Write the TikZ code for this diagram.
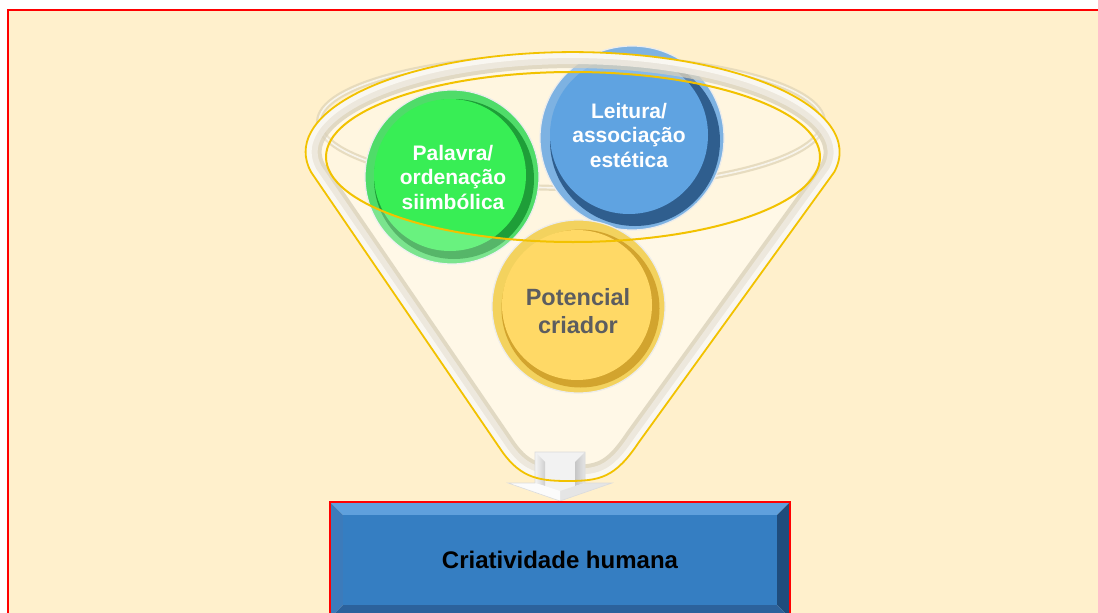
\documentclass[tikz,border=0pt]{standalone}
\usepackage{fontspec}
\setmainfont{Liberation Sans}
\definecolor{bgcream}{HTML}{FFF0CC}
\definecolor{gold}{HTML}{F2C200}
\definecolor{wallA}{HTML}{D8CFB8}
\definecolor{wallB}{HTML}{EFEAE0}
\definecolor{wallC}{HTML}{FBF9F4}
\definecolor{rimc}{HTML}{E2D6B8}
\definecolor{gRing}{HTML}{4FDC69}
\definecolor{gDark}{HTML}{1E9E38}
\definecolor{gFace}{HTML}{38EE55}
\definecolor{bRing}{HTML}{7DB2E2}
\definecolor{bDark}{HTML}{2F5E8E}
\definecolor{bFace}{HTML}{5FA3E1}
\definecolor{yRing}{HTML}{F3D25E}
\definecolor{yDark}{HTML}{D2A42E}
\definecolor{yFace}{HTML}{FFD966}
\definecolor{ytext}{HTML}{5C5D60}
\definecolor{boxface}{HTML}{357EC2}
\definecolor{bevTop}{HTML}{5FA0DD}
\definecolor{bevLeft}{HTML}{3C7BBB}
\definecolor{bevRight}{HTML}{1F4C7C}
\definecolor{bevBot}{HTML}{2C629C}
\tikzset{
  ringdisk/.style={circle, inner sep=0pt, draw=white!85!gray, line width=1.2pt},
  facedisk/.style={circle, inner sep=0pt, align=center},
  bubtext/.style={font=\fontsize{21}{24.5}\selectfont\bfseries, text=white},
  goldline/.style={draw=gold, line width=2pt},
}
\def\funnelpath{(311,-172) arc[start angle=191.5, end angle=-11.5, x radius=267, y radius=100] -- (639,-442) .. controls (615,-478) and (600,-481) .. (567,-481) .. controls (535,-481) and (518,-476) .. (499,-447) -- cycle}
\begin{document}
\begin{tikzpicture}[x=1pt,y=1pt]
\clip (0,0) rectangle (1098,-613);
\fill[white] (0,0) rectangle (1098,-613);
\draw[red, line width=2.6pt, fill=bgcream] (8,-10) rectangle (1120,-640);

% funnel interior
\fill[white, opacity=0.4] \funnelpath;
% back rim
\draw[rimc, line width=6pt, opacity=0.8] (571,-122) ellipse[x radius=252, y radius=66];
\draw[white, line width=1.6pt, opacity=0.7] (571,-122) ellipse[x radius=252, y radius=66];

% green bubble
\node[ringdisk, minimum size=174pt, fill=gRing] (gOut) at (452,-177) {};
\fill[gDark] (454,-179) circle (80);
\node[facedisk, minimum size=152pt, fill=gFace] (gFaceN) at (450,-175) {};
\node[bubtext, align=center] (gText) at (453,-177) {Palavra/\\ordenação\\siimbólica};

% blue bubble
\node[ringdisk, minimum size=184pt, fill=bRing] (bOut) at (632,-138) {};
\fill[bDark] (635,-141) circle (85);
\node[facedisk, minimum size=158pt, fill=bFace] (bFaceN) at (629,-135) {};
\node[bubtext, align=center] (bText) at (629,-135) {Leitura/\\associação\\estética};

% front glass
\fill[white, opacity=0.25, even odd rule] \funnelpath (573,-157) ellipse[x radius=247, y radius=85];

% yellow bubble
\node[ringdisk, minimum size=173pt, fill=yRing] (yOut) at (578.5,-306.5) {};
\fill[yDark] (580.5,-308.5) circle (79);
\node[facedisk, minimum size=150pt, fill=yFace] (yFaceN) at (577,-305) {};
\node[align=center, font=\fontsize{23.5}{28}\selectfont\bfseries, text=ytext] (yText) at (578,-311) {Potencial\\criador};

% glass walls
\begin{scope}
\clip \funnelpath;
\draw[wallA, line width=32pt, opacity=0.75] \funnelpath;
\draw[wallB, line width=24pt, opacity=0.9] \funnelpath;
\draw[wallC, line width=12pt, opacity=0.9] \funnelpath;
\end{scope}

% arrow
\fill[white!90!gray] (535,-452) -- (585,-452) -- (585,-483) -- (612,-483) -- (560,-501) -- (508,-483) -- (535,-483) -- cycle;
\shade[left color=white!92!gray, right color=white!62!gray] (535,-452) -- (545,-462) -- (545,-486) -- (535,-483) -- cycle;
\shade[left color=white!55!gray, right color=white!80!gray] (585,-452) -- (575,-462) -- (575,-486) -- (585,-483) -- cycle;
\fill[white!80!gray] (560,-501) -- (612,-483) -- (585,-483) -- (575,-486) -- (560,-491) -- cycle;
\fill[white!97!gray] (560,-501) -- (508,-483) -- (535,-483) -- (545,-486) -- (560,-491) -- cycle;
\draw[white!72!gray, line width=0.6pt] (535,-452) -- (585,-452) -- (585,-483) -- (612,-483) -- (560,-501) -- (508,-483) -- (535,-483) -- cycle;

% outlines
\draw[goldline, line width=1.8pt] \funnelpath;
\draw[goldline] (573,-157) ellipse[x radius=247, y radius=85];

% bottom box
\fill[bevTop] (331,-503) -- (789,-503) -- (777,-515) -- (343,-515) -- cycle;
\fill[bevLeft] (331,-503) -- (343,-515) -- (343,-605) -- (331,-617) -- cycle;
\fill[bevRight] (789,-503) -- (777,-515) -- (777,-605) -- (789,-617) -- cycle;
\fill[bevBot] (343,-605) -- (777,-605) -- (789,-617) -- (331,-617) -- cycle;
\node[fill=boxface, minimum width=434pt, minimum height=90pt, inner sep=0pt,
      font=\fontsize{24}{28}\selectfont\bfseries, text=black] (ch) at (560,-560) {Criatividade humana};
\draw[red, line width=2pt] (330,-502) rectangle (790,-625);
\end{tikzpicture}
\end{document}
